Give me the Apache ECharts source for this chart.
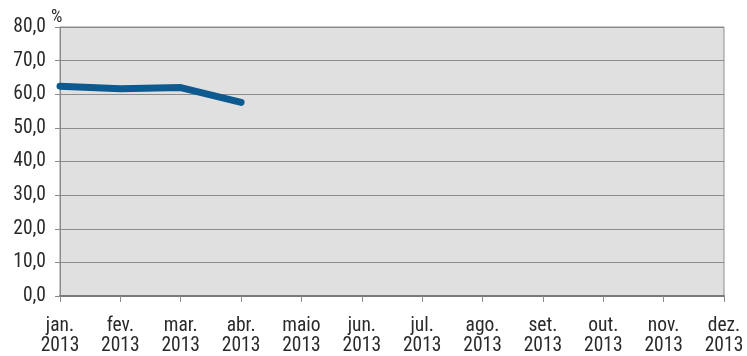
<!DOCTYPE html>
<html>
<head>
<meta charset="utf-8">
<script src="https://cdn.jsdelivr.net/npm/echarts@6/dist/echarts.min.js"></script>
<style>
html,body{margin:0;padding:0;background:#fff;}
#chart{width:747px;height:356px;}
</style>
</head>
<body>
<div id="chart"></div>
<script>
// Monthly categories for 2013 and observed values (%)
const months = ['jan.', 'fev.', 'mar.', 'abr.', 'maio', 'jun.', 'jul.', 'ago.', 'set.', 'out.', 'nov.', 'dez.'];
const year = '2013';
const values = [62.4, 61.6, 62.0, 57.6, null, null, null, null, null, null, null, null];
const yTicks = [0, 10, 20, 30, 40, 50, 60, 70, 80];
const unit = '%';

const font = '"Liberation Sans Narrow", "Roboto Condensed", "Liberation Sans", sans-serif';
const chart = echarts.init(document.getElementById('chart'), null, { renderer: 'canvas' });

chart.setOption({
  animation: false,
  grid: { left: 60, right: 23, top: 27, bottom: 59, show: true, backgroundColor: '#e0e0e0', borderColor: '#8f8f8f', borderWidth: 1 },
  graphic: [{
    type: 'text',
    left: 51,
    top: 8,
    style: { text: unit, fill: '#2a2a2a', font: '18px ' + font }
  }],
  xAxis: {
    type: 'category',
    data: months.map(m => m + '\n' + year),
    boundaryGap: false,
    axisLine: { lineStyle: { color: '#7a7a7a', width: 2 } },
    axisTick: { show: true, alignWithLabel: true, length: 6, lineStyle: { color: '#8a8a8a' } },
    axisLabel: { color: '#2a2a2a', fontFamily: font, fontSize: 19.5, lineHeight: 20, margin: 20, interval: 0 },
    splitLine: { show: false }
  },
  yAxis: {
    type: 'value',
    min: yTicks[0],
    max: yTicks[yTicks.length - 1],
    interval: 10,
    axisLine: { show: true, lineStyle: { color: '#8a8a8a', width: 1 } },
    axisTick: { show: true, length: 5, lineStyle: { color: '#8a8a8a' } },
    axisLabel: { color: '#2a2a2a', fontFamily: font, fontSize: 19.5, margin: 14, formatter: v => v.toFixed(1).replace('.', ',') },
    splitLine: { show: true, lineStyle: { color: '#8c8c8c', width: 1 } }
  },
  series: [{
    type: 'line',
    data: values,
    symbol: 'none',
    connectNulls: false,
    lineStyle: { color: '#0c5a8f', width: 7, cap: 'round', join: 'round' }
  }]
});
</script>
</body>
</html>
